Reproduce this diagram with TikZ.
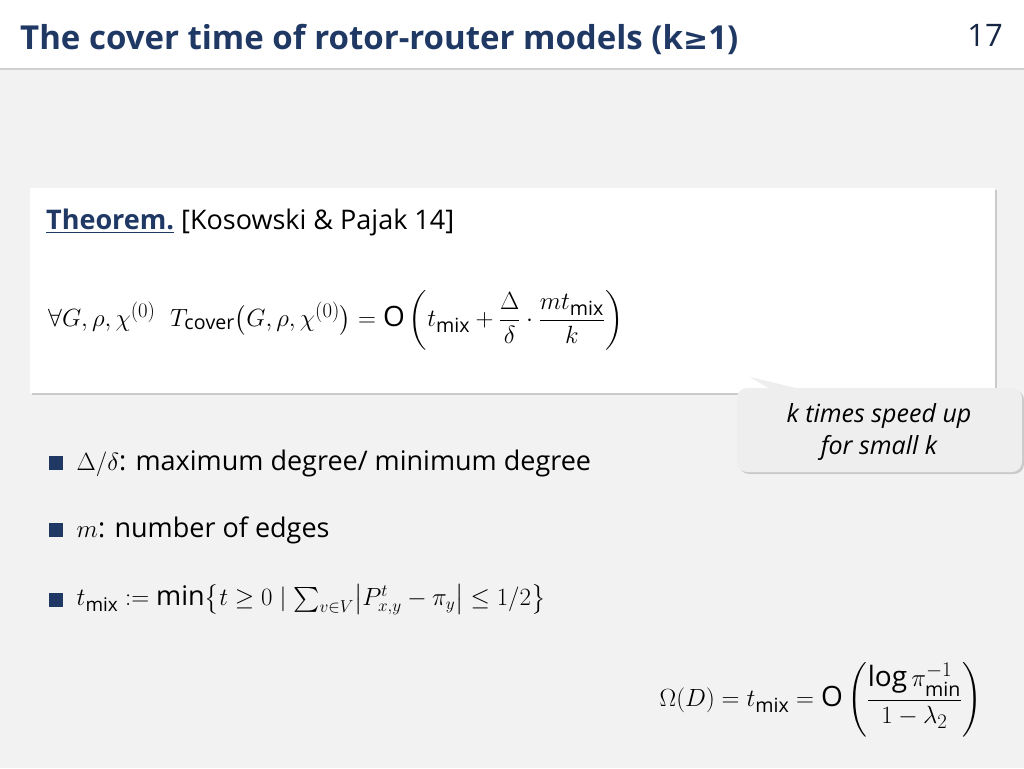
\documentclass[tikz,border=0pt]{standalone}
\usepackage{amsmath}
\usepackage{fontspec}
\setmainfont{Open Sans}
\newfontfamily\symfont{DejaVu Sans}
\usetikzlibrary{shadows,positioning}
\definecolor{titleblue}{RGB}{31,56,100}
\definecolor{slidegray}{RGB}{242,242,242}
\definecolor{notegray}{RGB}{238,238,238}
\tikzset{
  body/.style={anchor=west,font=\fontsize{27}{32}\selectfont},
  bulletsq/.style={fill=titleblue,minimum size=14pt,inner sep=0pt},
  panel/.style={fill=white,drop shadow={shadow xshift=2pt,shadow yshift=-2pt,opacity=.35}},
}
\begin{document}
\begin{tikzpicture}[x=1pt,y=-1pt]
\useasboundingbox (0,0) rectangle (1024,768);
\fill[slidegray] (0,0) rectangle (1024,768);
\fill[white,drop shadow={shadow xshift=0pt,shadow yshift=-2pt,opacity=.3}] (0,0) rectangle (1024,68);
\node[anchor=west,font=\fontsize{33}{38}\selectfont\bfseries,text=titleblue,inner sep=0pt] (title) at (20,39)
  {The cover time of rotor-router models (k{\symfont\fontsize{30}{34}\selectfont ≥}1)};
\node[font=\fontsize{31}{36}\selectfont,text=titleblue!70!black] (page) at (985,35) {17};
% theorem panel
\path[panel] (30,188) rectangle (995,393);
\node[anchor=west,font=\fontsize{27}{32}\selectfont,inner sep=0pt] (thm) at (46,222)
  {\textcolor{titleblue}{\bfseries\underline{Theorem.}} [Kosowski \& Pajak 14]};
\node[anchor=west,font=\fontsize{28}{34}\selectfont,inner sep=0pt] (forall) at (48,320)
  {$\forall G,\rho,\chi^{(0)}\ \ T_{\mathrm{cover}}\bigl(G,\rho,\chi^{(0)}\bigr)=\mathrm{O}\left(t_{\mathrm{mix}}+\dfrac{\Delta}{\delta}\cdot\dfrac{m t_{\mathrm{mix}}}{k}\right)$};
% callout
\path[fill=notegray,rounded corners=10pt,drop shadow={shadow xshift=2pt,shadow yshift=-2pt,opacity=.35}]
  (737,388) -- (1022,388) -- (1022,472) -- (737,472) -- cycle;
\path[fill=notegray] (750,377) -- (800,389) -- (770,389) -- cycle;
\node[align=center,font=\fontsize{25}{40}\selectfont\itshape] (note) at (879,432)
  {k times speed up\\[-8pt]for small k};
% bullets
\node[bulletsq] (b1) at (56,463) {};
\node[body,right=10pt of b1] (t1) {$\Delta/\delta$: maximum degree/ minimum degree};
\node[bulletsq] (b2) at (56,530) {};
\node[body,right=10pt of b2] (t2) {$m$: number of edges};
\node[bulletsq] (b3) at (56,600) {};
\node[body,right=10pt of b3] (t3) {$t_{\mathrm{mix}}\mathrel{:=}\min\bigl\{t\ge 0\mid \textstyle\sum_{v\in V}\bigl|P^{t}_{x,y}-\pi_y\bigr|\le 1/2\bigr\}$};
\node[anchor=east,font=\fontsize{28}{34}\selectfont,inner sep=0pt] (omega) at (982,700)
  {$\Omega(D)=t_{\mathrm{mix}}=\mathrm{O}\left(\dfrac{\log\pi_{\min}^{-1}}{1-\lambda_2}\right)$};
\end{tikzpicture}
\end{document}
